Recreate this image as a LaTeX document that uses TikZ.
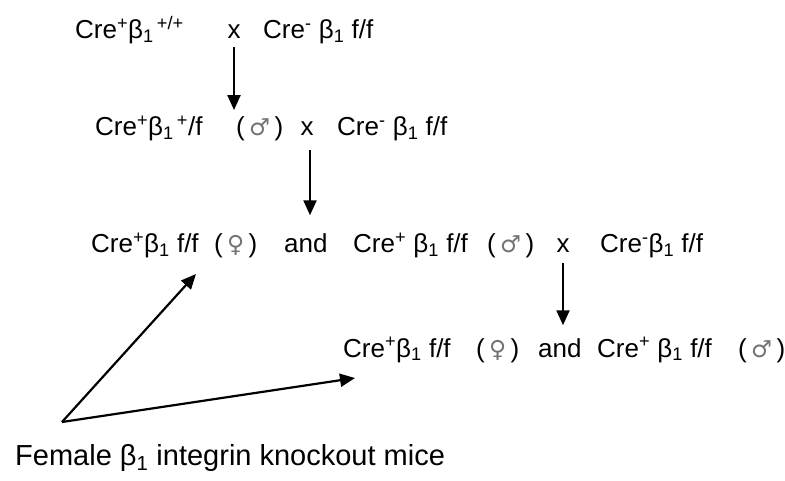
\documentclass[tikz,border=0pt]{standalone}
\usepackage{fontspec}
\setmainfont{Liberation Sans}
\newfontfamily\symfont{DejaVu Sans}
\usetikzlibrary{arrows.meta}
\newcommand\up[1]{\textsuperscript{#1}}
\newcommand\dn[1]{\textsubscript{#1}}
\newcommand\bet{β\dn{1}}
\newcommand\malesym{(\,{\symfont\color{black!55}\scalebox{0.9}{♂}}\,)}
\newcommand\femsym{(\,{\symfont\color{black!55}\scalebox{0.9}{♀}}\,)}
\begin{document}
\begin{tikzpicture}[x=1pt,y=-1pt,
  every node/.style={inner sep=0pt, anchor=base west, font=\fontsize{26}{31}\selectfont},
  cross/.style={anchor=base},
  arr/.style={line width=2.2pt, -{Triangle[length=15pt,width=13pt]}}]
\useasboundingbox[fill=white] (0,0) rectangle (785,481);
% row 1
\node (r1a) at (75,39) {Cre\up{+}\bet\hspace{0.12em}\up{+/+}};
\node[cross] (r1x) at (234,39) {x};
\node (r1b) at (263,39) {Cre\up{-} \bet\ f/f};
% row 2
\node (r2a) at (95,136) {Cre\up{+}\bet\hspace{0.12em}\up{+}/f};
\node (r2m) at (236,136) {\malesym};
\node[cross] (r2x) at (307,136) {x};
\node (r2b) at (337,136) {Cre\up{-} \bet\ f/f};
% row 3
\node (r3a) at (91,253) {Cre\up{+}\bet\ f/f};
\node (r3f) at (214,253) {\femsym};
\node (r3and) at (284,253) {and};
\node (r3c) at (353,253) {Cre\up{+} \bet\ f/f};
\node (r3m) at (487,253) {\malesym};
\node[cross] (r3x) at (563,253) {x};
\node (r3b) at (600,253) {Cre\up{-}\bet\ f/f};
% row 4
\node (r4a) at (343,357) {Cre\up{+}\bet\ f/f};
\node (r4f) at (476,357) {\femsym};
\node (r4and) at (538,357) {and};
\node (r4c) at (597,357) {Cre\up{+} \bet\ f/f};
\node (r4m) at (738,357) {\malesym};
% bottom label
\node[font=\fontsize{29}{34}\selectfont] (lab) at (15,465) {Female \bet\ integrin knockout mice};
% vertical arrows
\draw[arr] ([yshift=-8pt]r1x.south) -- ([yshift=12pt]r1x.south |- r2x.north);
\draw[arr] ([xshift=3pt,yshift=-14pt]r2x.south) -- ([xshift=3pt,yshift=18pt]r2x.south |- r3a.north);
\draw[arr] ([yshift=-10pt]r3x.south) -- ([yshift=12pt]r3x.south |- r4a.north);
% diagonal arrows
\coordinate (v) at (62,422);
\coordinate (t1) at (196,274);
\coordinate (t2) at (355,378);
\draw[arr, line join=round] (v) -- (t1);
\draw[arr, line join=round] (v) -- (t2);
\end{tikzpicture}
\end{document}
